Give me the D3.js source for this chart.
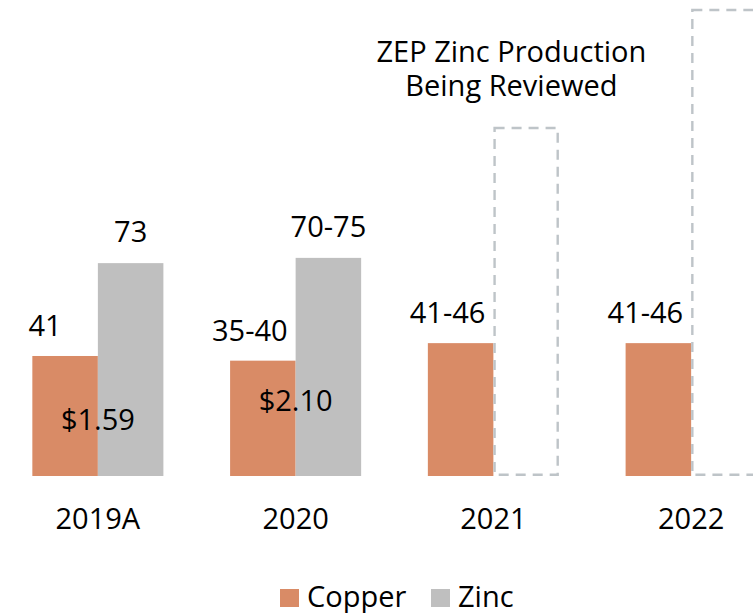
<!DOCTYPE html>
<html>
<head>
<meta charset="utf-8">
<script src="https://cdn.jsdelivr.net/npm/d3@7"></script>
<style>
  html, body { margin: 0; padding: 0; background: #fff; overflow: hidden; }
  svg { display: block; }
  text { font-family: "Open Sans", sans-serif; fill: #000; }
</style>
</head>
<body>
<svg id="chart" width="753" height="613"></svg>
<script>
// ---- data ----
const categories = ["2019A", "2020", "2021", "2022"];
const copperValues = [41.1, 39.5, 45.5, 45.5];
const zincValues = [72.9, 74.7, 119.2, 159.6];
const zincEstimated = [false, false, true, true];
const copperLabels = ["41", "35-40", "41-46", "41-46"];
const zincLabels = ["73", "70-75", "", ""];
const priceLabels = ["$1.59", "$2.10", "", ""];
const priceLabelLevels = [15.8, 22.3, 0, 0];
const annotationLines = ["ZEP Zinc Production", "Being Reviewed"];
const seriesNames = ["Copper", "Zinc"];

// ---- styles ----
const COPPER = "#D98B66";
const ZINC = "#BFBFBF";
const DASH = "#BEC4C8";
const FONT = 29;

const svg = d3.select("#chart");
const baseY = 476;

const x = d3.scaleBand().domain(categories).range([-1, 790])
  .paddingInner(0.3373).paddingOuter(0.1686);
const xs = d3.scaleBand().domain(["copper", "zinc"]).range([0, x.bandwidth()]);
const y = d3.scaleLinear().domain([0, 100]).range([baseY, 184]);

const groups = svg.selectAll("g.grp").data(categories).enter().append("g")
  .attr("class", "grp").attr("transform", d => `translate(${x(d)},0)`);

// copper bars
groups.append("rect")
  .attr("x", xs("copper")).attr("width", xs.bandwidth())
  .attr("y", (d, i) => y(copperValues[i]))
  .attr("height", (d, i) => y(0) - y(copperValues[i]))
  .attr("fill", COPPER);

// zinc bars
groups.each(function(d, i) {
  const g = d3.select(this);
  if (!zincEstimated[i]) {
    g.append("rect")
      .attr("x", xs("zinc")).attr("width", xs.bandwidth())
      .attr("y", y(zincValues[i]))
      .attr("height", y(0) - y(zincValues[i]))
      .attr("fill", ZINC);
  } else {
    g.append("rect")
      .attr("x", xs("zinc") + 1.2).attr("width", xs.bandwidth() - 2.4)
      .attr("y", y(zincValues[i]))
      .attr("height", y(0) - y(zincValues[i]) - 1.2)
      .attr("fill", "none")
      .attr("stroke", DASH)
      .attr("stroke-width", 2.4)
      .attr("stroke-dasharray", "10,7");
  }
});

// copper labels
groups.append("text")
  .attr("x", (d, i) => xs("copper") + xs.bandwidth() / 2 - (i === 0 ? 20 : 13))
  .attr("y", (d, i) => y(copperValues[i]) - 20)
  .attr("text-anchor", "middle").attr("font-size", FONT)
  .text((d, i) => copperLabels[i]);

// zinc labels
groups.append("text")
  .attr("x", xs("zinc") + xs.bandwidth() / 2)
  .attr("y", (d, i) => y(zincValues[i]) - 21)
  .attr("text-anchor", "middle").attr("font-size", FONT)
  .text((d, i) => zincLabels[i]);

// price labels
groups.append("text")
  .attr("x", x.bandwidth() / 2)
  .attr("y", (d, i) => y(priceLabelLevels[i]))
  .attr("text-anchor", "middle").attr("font-size", FONT)
  .text((d, i) => priceLabels[i]);

// category axis labels
const xAxis = d3.axisBottom(x).tickSize(0).tickPadding(0);
const axisG = svg.append("g").attr("transform", `translate(0,${baseY})`).call(xAxis);
axisG.select(".domain").remove();
axisG.selectAll("text")
  .attr("font-size", FONT).attr("font-family", "Open Sans, sans-serif")
  .attr("fill", "#000").attr("dy", null).attr("y", 53);

// annotation
const annX = x("2021") + x.bandwidth() / 2 + 18;
svg.append("text").attr("text-anchor", "middle").attr("font-size", FONT)
  .selectAll("tspan").data(annotationLines).enter().append("tspan")
  .attr("x", annX).attr("y", (d, i) => 62 + i * 34).text(d => d);

// legend
const legendColors = [COPPER, ZINC];
const legendX = [280, 431];
const lg = svg.selectAll("g.leg").data(seriesNames).enter().append("g")
  .attr("class", "leg").attr("transform", (d, i) => `translate(${legendX[i]},589)`);
lg.append("rect").attr("width", 19).attr("height", 18).attr("fill", (d, i) => legendColors[i]);
lg.append("text").attr("x", 27).attr("y", 18).attr("font-size", FONT).text(d => d);
</script>
</body>
</html>
